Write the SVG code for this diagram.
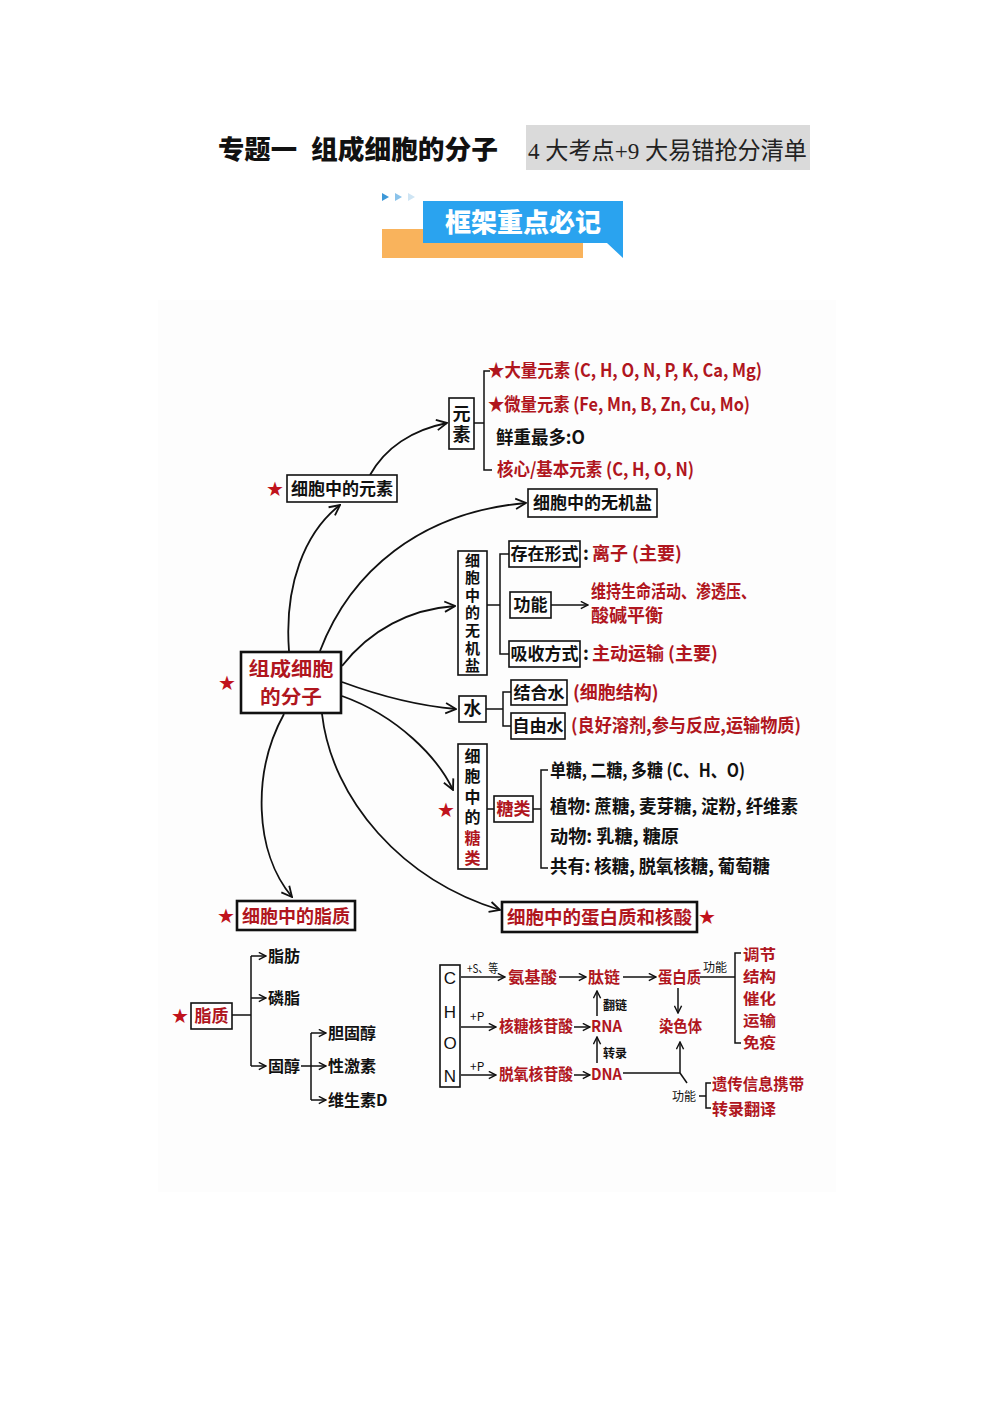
<svg xmlns="http://www.w3.org/2000/svg" width="1000" height="1414" viewBox="0 0 1000 1414">
<style>
text{font-family:"Noto Sans CJK SC","Liberation Sans",sans-serif;font-weight:700;}
.b{fill:#111;}
.r{fill:#b0161e;}
.s15{font-size:15px;}
.s16{font-size:16px;}
.s17{font-size:17px;}
.s18{font-size:18px;}
.sm{font-size:12px;font-weight:400;fill:#111;}
.box{fill:#fff;stroke:#111;stroke-width:1.6;}
.box2{fill:#fff;stroke:#111;stroke-width:2.6;}
.ln{fill:none;stroke:#111;stroke-width:1.5;}
.con{fill:none;stroke:#111;stroke-width:1.8;}
.star{font-family:"DejaVu Sans",sans-serif;fill:#c0131c;font-size:20px;font-weight:400;}
.mid{text-anchor:middle;}
.vt{writing-mode:vertical-rl;text-orientation:upright;text-anchor:middle;}
</style>
<defs>
<marker id="ah" viewBox="0 0 10 10" refX="9" refY="5" markerWidth="9" markerHeight="9" markerUnits="userSpaceOnUse" orient="auto">
<path d="M1,1 L9,5 L1,9" fill="none" stroke="#111" stroke-width="1.6"/>
</marker>
<marker id="ahb" viewBox="0 0 10 10" refX="9" refY="5" markerWidth="13" markerHeight="13" markerUnits="userSpaceOnUse" orient="auto">
<path d="M1,1 L9,5 L1,9" fill="none" stroke="#111" stroke-width="1.4"/>
</marker>
</defs>
<rect width="1000" height="1414" fill="#fff"/>
<rect x="158" y="300" width="678" height="892" fill="#fdfdfd"/>

<g id="header">
<text x="218" y="159" style="font-size:26px;font-weight:900" fill="#111" textLength="79" lengthAdjust="spacingAndGlyphs">专题一</text>
<text x="311" y="159" style="font-size:26px;font-weight:900" fill="#111" textLength="187" lengthAdjust="spacingAndGlyphs">组成细胞的分子</text>
<rect x="526" y="125" width="284" height="45" fill="#dadada"/>
<text x="528" y="159" style="font-size:24px;font-family:'Liberation Serif','Noto Sans CJK SC',serif;font-weight:400" fill="#222" textLength="279" lengthAdjust="spacingAndGlyphs">4 大考点+9 大易错抢分清单</text>
</g>

<g id="banner">
<polygon points="382,193 389,197 382,201" fill="#3d98d8"/>
<polygon points="395,193 402,197 395,201" fill="#8bc3ea"/>
<polygon points="408,193 415,197 408,201" fill="#cfe5f4"/>
<rect x="382" y="229" width="201" height="29" fill="#f9b35c"/>
<polygon points="423,201 623,201 623,258 607,243 423,243" fill="#2aa3ef"/>
<text x="523" y="232" class="mid" style="font-size:26px;font-weight:900" fill="#fff">框架重点必记</text>
</g>

<g id="connectors">
<path class="con" d="M289,651 C284,585 305,532 340,505" marker-end="url(#ahb)"/>
<path class="con" d="M370,475 C385,448 412,430 447,423" marker-end="url(#ahb)"/>
<path class="con" d="M320,651 C350,572 420,512 526,503" marker-end="url(#ahb)"/>
<path class="con" d="M342,666 C370,630 410,609 455,606" marker-end="url(#ahb)"/>
<path class="con" d="M342,682 C380,696 420,706 456,709" marker-end="url(#ahb)"/>
<path class="con" d="M342,696 C398,716 438,758 453,790" marker-end="url(#ahb)"/>
<path class="con" d="M284,714 C252,772 254,852 292,897" marker-end="url(#ahb)"/>
<path class="con" d="M322,714 C332,800 402,880 500,910" marker-end="url(#ahb)"/>
</g>

<g id="main">
<rect class="box2" x="241" y="652" width="100" height="61"/>
<text class="mid r" style="font-size:19px"><tspan x="291" y="676" textLength="85" lengthAdjust="spacingAndGlyphs">组成细胞</tspan><tspan x="291" y="704" textLength="62" lengthAdjust="spacingAndGlyphs">的分子</tspan></text>
<text x="227" y="690" class="star mid">★</text>
</g>

<g id="elements-node">
<rect class="box" x="287" y="475" width="110" height="27"/>
<text x="342" y="495" class="mid b s17">细胞中的元素</text>
<text x="275" y="496" class="star mid">★</text>
</g>

<g id="yuansu">
<rect class="box" x="449" y="398" width="25" height="51"/>
<text x="461.5" y="425" class="vt b s18" style="letter-spacing:3px">元素</text>
<path class="ln" d="M474,423 H484 M490,371 H484 V470 H492"/>
<text x="488" y="377" class="r s18" textLength="274" lengthAdjust="spacingAndGlyphs">★大量元素 (C, H, O, N, P, K, Ca, Mg)</text>
<text x="488" y="411" class="r s18" textLength="262" lengthAdjust="spacingAndGlyphs">★微量元素 (Fe, Mn, B, Zn, Cu, Mo)</text>
<text x="496" y="444" class="b s18" textLength="89" lengthAdjust="spacingAndGlyphs">鲜重最多:O</text>
<text x="497" y="476" class="r s18" textLength="197" lengthAdjust="spacingAndGlyphs">核心/基本元素 (C, H, O, N)</text>
</g>

<g id="salt-node">
<rect class="box" x="528" y="489" width="129" height="28"/>
<text x="592.5" y="509" class="mid b s17">细胞中的无机盐</text>
</g>

<g id="salt">
<rect class="box" x="458" y="551" width="29" height="124"/>
<text x="472.5" y="614" class="vt b s15" style="letter-spacing:2.6px">细胞中的无机盐</text>
<path class="ln" d="M487,605 H500 M509,554 H500 V654 H509"/>
<rect class="box" x="509" y="541" width="71" height="26"/>
<text x="544.5" y="560" class="mid b s17">存在形式</text>
<text x="583" y="560" class="s18"><tspan fill="#111">:</tspan><tspan x="592" fill="#b0161e">离子 (主要)</tspan></text>
<rect class="box" x="510" y="592" width="41" height="26"/>
<text x="530.5" y="611" class="mid b s17">功能</text>
<path class="ln" d="M551,605 H588" marker-end="url(#ah)"/>
<text class="r s18"><tspan x="591" y="598" textLength="165" lengthAdjust="spacingAndGlyphs">维持生命活动、渗透压、</tspan><tspan x="591" y="622">酸碱平衡</tspan></text>
<rect class="box" x="509" y="641" width="71" height="26"/>
<text x="544.5" y="660" class="mid b s17">吸收方式</text>
<text x="583" y="660" class="s18"><tspan fill="#111">:</tspan><tspan x="592" fill="#b0161e">主动运输 (主要)</tspan></text>
</g>

<g id="water">
<rect class="box" x="459" y="696" width="27" height="26"/>
<text x="472.5" y="715" class="mid b s18">水</text>
<path class="ln" d="M486,709 H503 M511,692 H503 V726 H511"/>
<rect class="box" x="511" y="680" width="56" height="25"/>
<text x="539" y="699" class="mid b s17">结合水</text>
<text x="573" y="699" class="r s18">(细胞结构)</text>
<rect class="box" x="511" y="713" width="54" height="26"/>
<text x="538" y="732" class="mid b s17">自由水</text>
<text x="571" y="732" class="r s18" textLength="230" lengthAdjust="spacingAndGlyphs">(良好溶剂,参与反应,运输物质)</text>
</g>

<g id="sugar">
<rect class="box" x="458" y="744" width="29" height="125"/>
<text x="472.5" y="809" class="vt s16" style="letter-spacing:4.4px"><tspan fill="#111">细胞中的</tspan><tspan fill="#b0161e">糖类</tspan></text>
<text x="446" y="817" class="star mid">★</text>
<path class="ln" d="M487,809 H494"/>
<rect class="box" x="494" y="796" width="39" height="26"/>
<text x="513.5" y="815" class="mid r s17">糖类</text>
<path class="ln" d="M533,809 H541 M548,770 H541 V868 H548"/>
<text x="550" y="777" class="b s18" textLength="195" lengthAdjust="spacingAndGlyphs">单糖, 二糖, 多糖 (C、H、O)</text>
<text x="550" y="813" class="b s18" textLength="248" lengthAdjust="spacingAndGlyphs">植物: 蔗糖, 麦芽糖, 淀粉, 纤维素</text>
<text x="550" y="843" class="b s18" textLength="129" lengthAdjust="spacingAndGlyphs">动物: 乳糖, 糖原</text>
<text x="550" y="873" class="b s18" textLength="220" lengthAdjust="spacingAndGlyphs">共有: 核糖, 脱氧核糖, 葡萄糖</text>
</g>

<g id="lipid-node">
<rect class="box2" x="237" y="901" width="118" height="29"/>
<text x="296" y="923" class="mid r s18">细胞中的脂质</text>
<text x="226" y="923" class="star mid">★</text>
</g>

<g id="lipid">
<text x="180" y="1023" class="star mid">★</text>
<rect class="box" x="191" y="1003" width="41" height="26"/>
<text x="211.5" y="1022" class="mid r s17">脂质</text>
<path class="ln" d="M232,1015 H251 M251,956 V1066"/>
<path class="ln" d="M251,956 H266" marker-end="url(#ah)"/>
<path class="ln" d="M251,998 H266" marker-end="url(#ah)"/>
<path class="ln" d="M251,1066 H266" marker-end="url(#ah)"/>
<text x="268" y="962" class="b s16">脂肪</text>
<text x="268" y="1004" class="b s16">磷脂</text>
<text x="268" y="1072" class="b s16">固醇</text>
<path class="ln" d="M301,1066 H311 M311,1033 V1100"/>
<path class="ln" d="M311,1033 H326" marker-end="url(#ah)"/>
<path class="ln" d="M311,1066 H326" marker-end="url(#ah)"/>
<path class="ln" d="M311,1100 H326" marker-end="url(#ah)"/>
<text x="328" y="1039" class="b s16">胆固醇</text>
<text x="328" y="1072" class="b s16">性激素</text>
<text x="328" y="1106" class="b s16">维生素D</text>
</g>

<g id="protein-node">
<rect class="box2" x="502" y="902" width="195" height="30"/>
<text x="599.5" y="924" class="mid r" style="font-size:18.5px">细胞中的蛋白质和核酸</text>
<text x="707" y="924" class="star mid">★</text>
</g>

<g id="protein">
<rect class="box" x="440" y="965" width="20" height="122"/>
<text class="mid b" style="font-size:17px;font-family:'Liberation Sans',sans-serif;font-weight:400"><tspan x="450" y="984">C</tspan><tspan x="450" y="1018">H</tspan><tspan x="450" y="1049">O</tspan><tspan x="450" y="1082">N</tspan></text>
<text x="467" y="973" class="sm" textLength="31" lengthAdjust="spacingAndGlyphs">+S、等</text>
<text x="470" y="1021" class="sm">+P</text>
<text x="470" y="1071" class="sm">+P</text>
<path class="ln" d="M461,977 H505" marker-end="url(#ah)"/>
<path class="ln" d="M461,1027 H496" marker-end="url(#ah)"/>
<path class="ln" d="M461,1075 H496" marker-end="url(#ah)"/>
<text x="508" y="983" class="r s16" textLength="49" lengthAdjust="spacingAndGlyphs">氨基酸</text>
<path class="ln" d="M559,977 H586" marker-end="url(#ah)"/>
<text x="588" y="983" class="r s16">肽链</text>
<path class="ln" d="M623,977 H656" marker-end="url(#ah)"/>
<text x="658" y="983" class="r s16" textLength="43" lengthAdjust="spacingAndGlyphs">蛋白质</text>
<text x="499" y="1032" class="r s16" textLength="74" lengthAdjust="spacingAndGlyphs">核糖核苷酸</text>
<path class="ln" d="M574,1027 H590" marker-end="url(#ah)"/>
<text x="591" y="1032" class="r s16" textLength="31" lengthAdjust="spacingAndGlyphs">RNA</text>
<text x="499" y="1080" class="r s16" textLength="74" lengthAdjust="spacingAndGlyphs">脱氧核苷酸</text>
<path class="ln" d="M574,1075 H590" marker-end="url(#ah)"/>
<text x="591" y="1080" class="r s16" textLength="31" lengthAdjust="spacingAndGlyphs">DNA</text>
<path class="ln" d="M597,1016 V991" marker-end="url(#ah)"/>
<text x="603" y="1010" class="sm" style="font-weight:700">翻链</text>
<path class="ln" d="M597,1063 V1037" marker-end="url(#ah)"/>
<text x="603" y="1058" class="sm" style="font-weight:700">转录</text>
<path class="ln" d="M678,988 V1013" marker-end="url(#ah)"/>
<text x="659" y="1032" class="r s16" textLength="43" lengthAdjust="spacingAndGlyphs">染色体</text>
<path class="ln" d="M623,1073 H680 V1042" marker-end="url(#ah)"/>
<path class="ln" d="M680,1073 L687,1083"/>
<text x="703" y="972" class="sm">功能</text>
<path class="ln" d="M700,977 H735 M741,953 H735 V1043 H741"/>
<text class="r s15"><tspan x="743" y="960" textLength="33" lengthAdjust="spacingAndGlyphs">调节</tspan><tspan x="743" y="982" textLength="33" lengthAdjust="spacingAndGlyphs">结构</tspan><tspan x="743" y="1004" textLength="33" lengthAdjust="spacingAndGlyphs">催化</tspan><tspan x="743" y="1026" textLength="33" lengthAdjust="spacingAndGlyphs">运输</tspan><tspan x="743" y="1048" textLength="33" lengthAdjust="spacingAndGlyphs">免疫</tspan></text>
<text x="672" y="1101" class="sm">功能</text>
<path class="ln" d="M699,1096 H706 M711,1083 H706 V1108 H711"/>
<text class="r s16"><tspan x="712" y="1090" textLength="92" lengthAdjust="spacingAndGlyphs">遗传信息携带</tspan><tspan x="712" y="1115">转录翻译</tspan></text>
</g>
</svg>
